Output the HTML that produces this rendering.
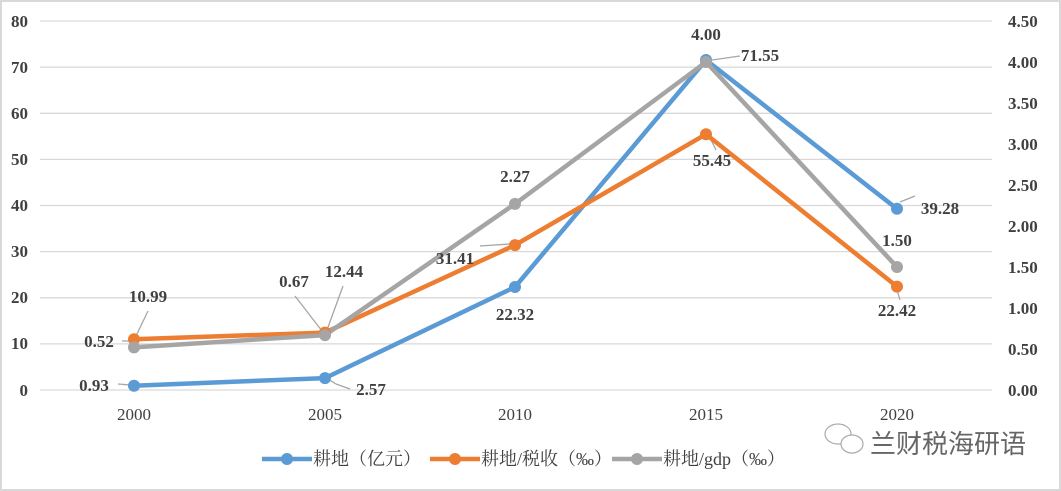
<!DOCTYPE html>
<html><head><meta charset="utf-8"><style>
body{margin:0;background:#fff}
svg{display:block}
text{font-family:"Liberation Serif","Noto Serif CJK SC",serif}
</style></head><body>
<svg width="1061" height="491" viewBox="0 0 1061 491">
<rect x="1" y="1" width="1059" height="489" fill="#fff" stroke="#d9d9d9" stroke-width="2"/>
<g stroke="#d9d9d9" stroke-width="1.3">
<line x1="40" x2="992" y1="21" y2="21"/><line x1="40" x2="992" y1="67.1" y2="67.1"/>
<line x1="40" x2="992" y1="113.3" y2="113.3"/><line x1="40" x2="992" y1="159.4" y2="159.4"/>
<line x1="40" x2="992" y1="205.5" y2="205.5"/><line x1="40" x2="992" y1="251.6" y2="251.6"/>
<line x1="40" x2="992" y1="297.8" y2="297.8"/><line x1="40" x2="992" y1="343.9" y2="343.9"/>
<line x1="40" x2="992" y1="390" y2="390"/>
</g>
<g font-size="17" font-weight="bold" fill="#404040" text-anchor="end">
<text x="28" y="27">80</text><text x="28" y="73">70</text><text x="28" y="119">60</text><text x="28" y="165">50</text>
<text x="28" y="211">40</text><text x="28" y="257">30</text><text x="28" y="303">20</text><text x="28" y="349">10</text><text x="28" y="396">0</text>
</g>
<g font-size="17" font-weight="bold" fill="#404040" text-anchor="start">
<text x="1008" y="27">4.50</text><text x="1008" y="68">4.00</text><text x="1008" y="109">3.50</text><text x="1008" y="150">3.00</text>
<text x="1008" y="191">2.50</text><text x="1008" y="232">2.00</text><text x="1008" y="273">1.50</text><text x="1008" y="314">1.00</text>
<text x="1008" y="355">0.50</text><text x="1008" y="396">0.00</text>
</g>
<g font-size="17" fill="#404040" text-anchor="middle">
<text x="134" y="420">2000</text><text x="325" y="420">2005</text><text x="515" y="420">2010</text><text x="706" y="420">2015</text><text x="897" y="420">2020</text>
</g>
<g stroke="#a6a6a6" stroke-width="1.3" fill="none">
<line x1="118" y1="384" x2="130" y2="385"/>
<line x1="336" y1="384" x2="328" y2="379"/><line x1="336" y1="384" x2="350" y2="389"/>
<line x1="148" y1="311" x2="136" y2="336"/>
<line x1="122" y1="341" x2="130" y2="341"/>
<line x1="295" y1="296" x2="322" y2="331"/><line x1="343" y1="286" x2="327" y2="330"/>
<line x1="480" y1="246" x2="510" y2="244"/>
<line x1="710" y1="138" x2="716" y2="150"/>
<line x1="740" y1="56" x2="712" y2="60"/>
<line x1="900" y1="202" x2="915" y2="196"/>
<line x1="897" y1="290" x2="900" y2="300"/>
</g>
<polyline points="134,385.7 325,378.1 515,287 706,60 897,208.8" fill="none" stroke="#5b9bd5" stroke-width="4.5" stroke-linejoin="round"/>
<polyline points="134,339.3 325,332.6 515,245.1 706,134.2 897,286.6" fill="none" stroke="#ed7d31" stroke-width="4.5" stroke-linejoin="round"/>
<polyline points="134,347.4 325,335.1 515,203.9 706,62 897,267" fill="none" stroke="#a5a5a5" stroke-width="4.5" stroke-linejoin="round"/>
<g fill="#5b9bd5"><circle cx="134" cy="385.7" r="6"/><circle cx="325" cy="378.1" r="6"/><circle cx="515" cy="287" r="6"/><circle cx="706" cy="60" r="6"/><circle cx="897" cy="208.8" r="6"/></g>
<g fill="#ed7d31"><circle cx="134" cy="339.3" r="6"/><circle cx="325" cy="332.6" r="6"/><circle cx="515" cy="245.1" r="6"/><circle cx="706" cy="134.2" r="6"/><circle cx="897" cy="286.6" r="6"/></g>
<g fill="#a5a5a5"><circle cx="134" cy="347.4" r="6"/><circle cx="325" cy="335.1" r="6"/><circle cx="515" cy="203.9" r="6"/><circle cx="706" cy="62" r="6"/><circle cx="897" cy="267" r="6"/></g>
<g font-size="17" font-weight="bold" fill="#404040" text-anchor="middle">
<text x="94" y="391">0.93</text><text x="371" y="395">2.57</text><text x="515" y="320">22.32</text><text x="760" y="61">71.55</text><text x="940" y="214">39.28</text>
<text x="148" y="302">10.99</text><text x="344" y="277">12.44</text><text x="455" y="264">31.41</text><text x="712" y="166">55.45</text><text x="897" y="316">22.42</text>
<text x="99" y="347">0.52</text><text x="294" y="287">0.67</text><text x="515" y="182">2.27</text><text x="706" y="40">4.00</text><text x="897" y="246">1.50</text>
</g>
<g font-size="18" fill="#404040">
<line x1="262" y1="459" x2="312" y2="459" stroke="#5b9bd5" stroke-width="4.5"/><circle cx="287" cy="459" r="6" fill="#5b9bd5"/>
<text x="313" y="465">耕地（亿元）</text>
<line x1="430" y1="459" x2="480" y2="459" stroke="#ed7d31" stroke-width="4.5"/><circle cx="455" cy="459" r="6" fill="#ed7d31"/>
<text x="481" y="465">耕地/税收（‰）</text>
<line x1="612" y1="459" x2="662" y2="459" stroke="#a5a5a5" stroke-width="4.5"/><circle cx="637" cy="459" r="6" fill="#a5a5a5"/>
<text x="663" y="465">耕地/gdp（‰）</text>
</g>
<g fill="#fff" stroke="#aaa" stroke-width="1.2">
<ellipse cx="838" cy="434" rx="13" ry="10"/><ellipse cx="852" cy="444" rx="11" ry="9"/>
</g>
<text x="870" y="453" font-size="26" fill="#666" style="font-family:'Noto Sans CJK SC',sans-serif">兰财税海研语</text>
</svg>
</body></html>
